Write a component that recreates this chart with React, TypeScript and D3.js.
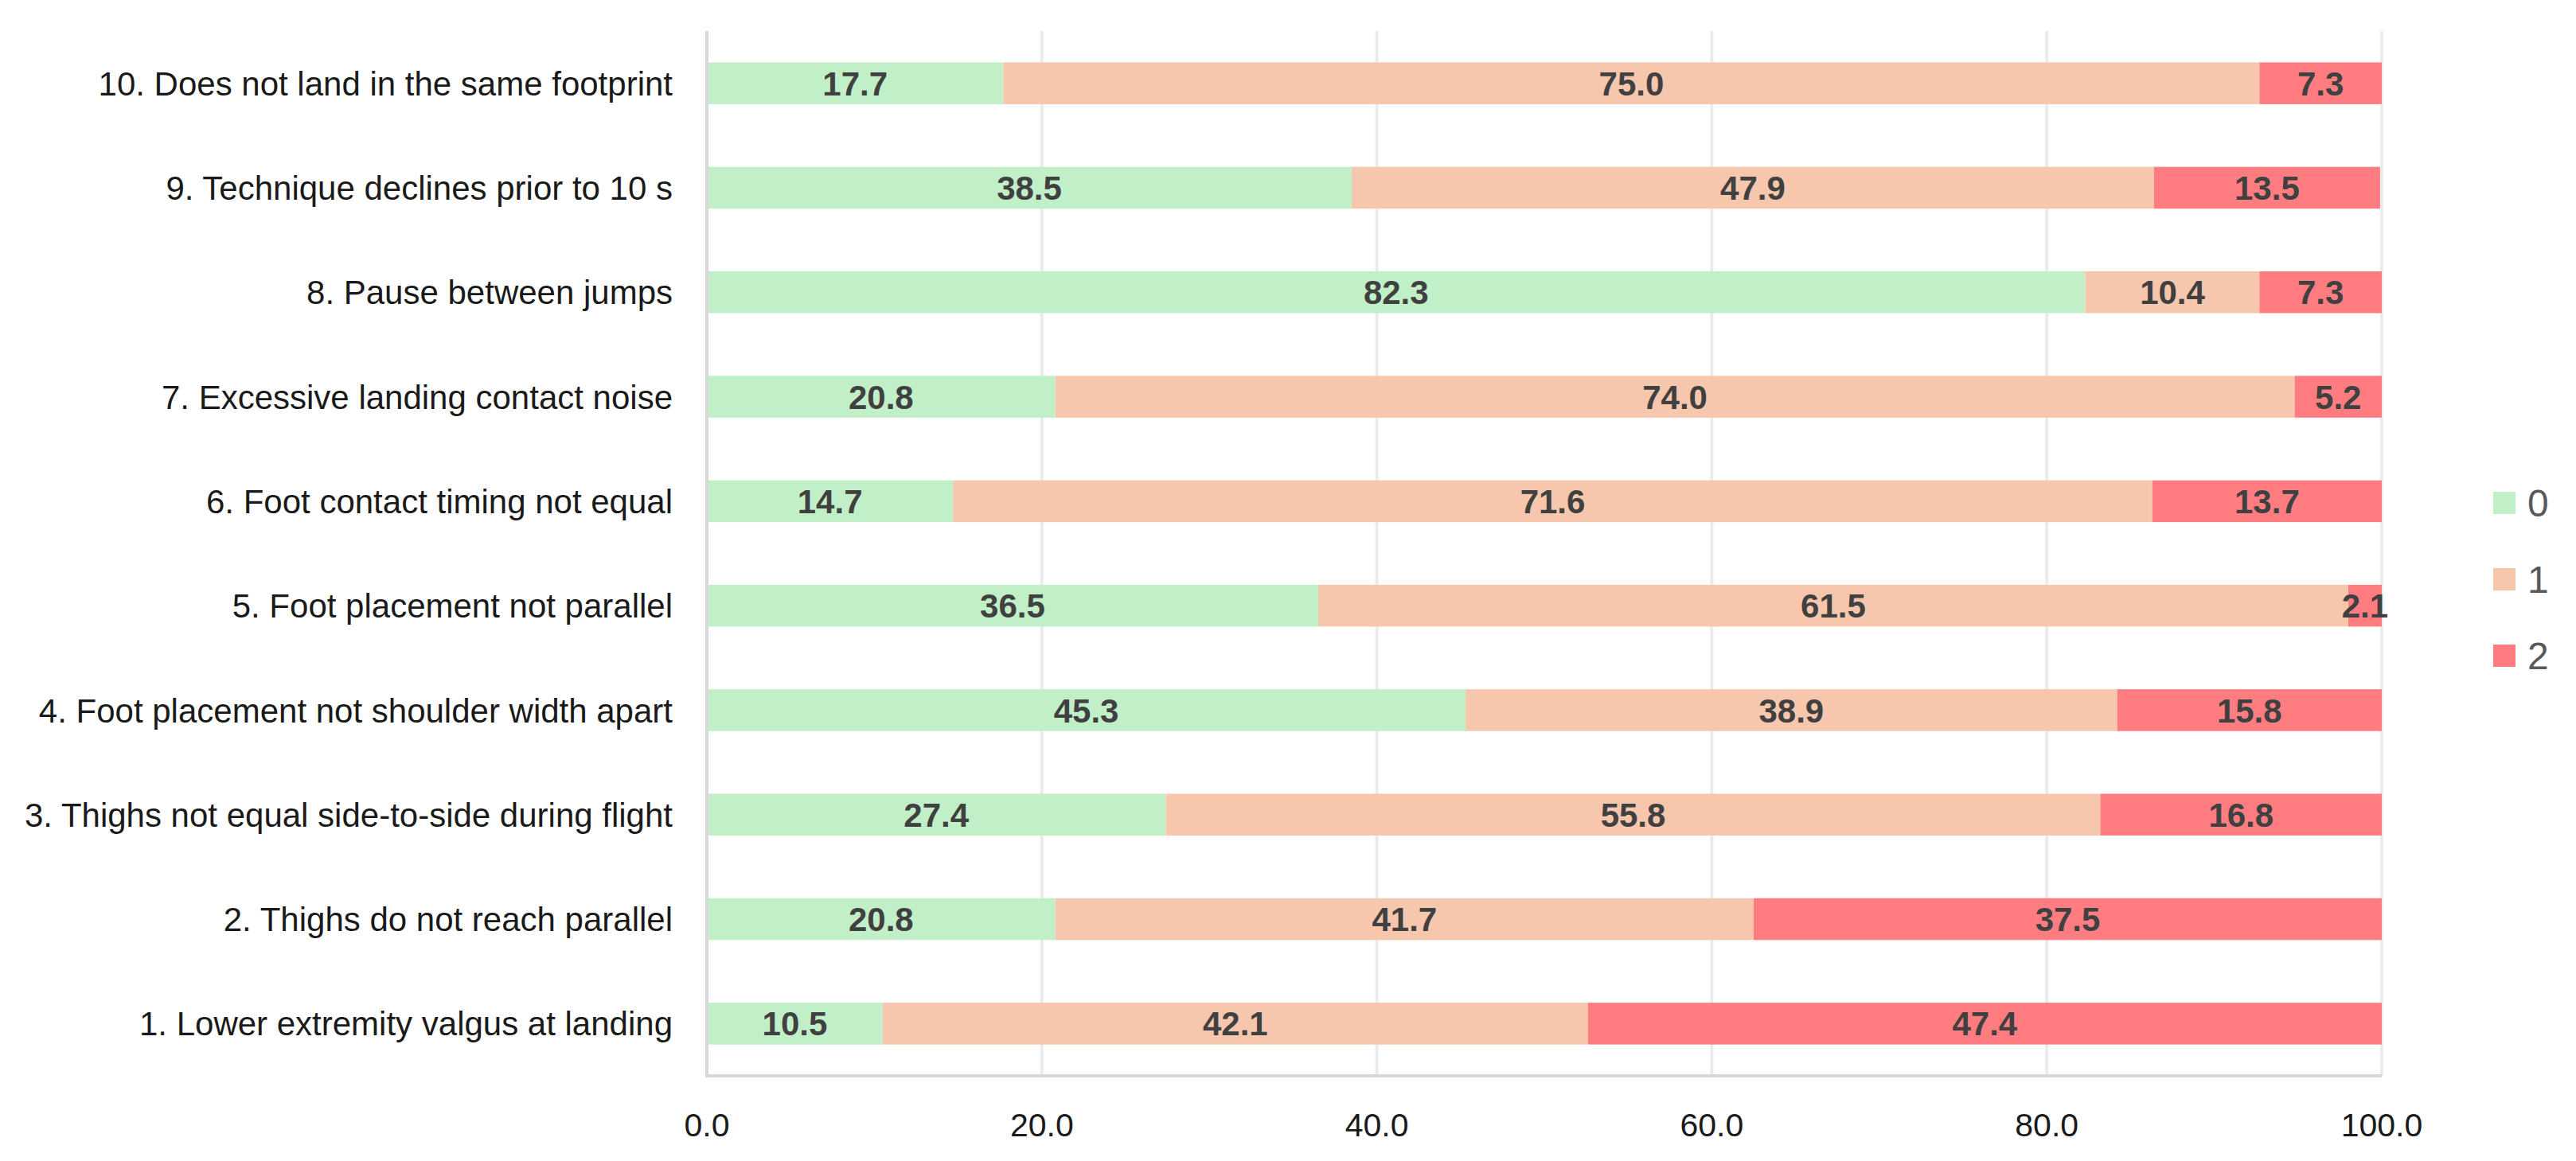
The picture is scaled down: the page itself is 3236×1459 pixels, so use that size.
import React, { useEffect, useRef } from 'react';
import * as d3 from 'd3';

// Item labels, top row first (as drawn)
const categories = [
  '10. Does not land in the same footprint',
  '9. Technique declines prior to 10 s',
  '8. Pause between jumps',
  '7. Excessive landing contact noise',
  '6. Foot contact timing not equal',
  '5. Foot placement not parallel',
  '4. Foot placement not shoulder width apart',
  '3. Thighs not equal side-to-side during flight',
  '2. Thighs do not reach parallel',
  '1. Lower extremity valgus at landing',
];

const score0 = [17.7, 38.5, 82.3, 20.8, 14.7, 36.5, 45.3, 27.4, 20.8, 10.5];
const score1 = [75.0, 47.9, 10.4, 74.0, 71.6, 61.5, 38.9, 55.8, 41.7, 42.1];
const score2 = [7.3, 13.5, 7.3, 5.2, 13.7, 2.1, 15.8, 16.8, 37.5, 47.4];

const seriesNames = ['0', '1', '2'];
const seriesColors = ['#C1F0C8', '#F6C6AD', '#FF7C80'];
const xTicks = [0, 20, 40, 60, 80, 100];

const W = 3236;
const H = 1459;

export default function App() {
  const svgRef = useRef<SVGSVGElement>(null);

  useEffect(() => {
    if (!svgRef.current) return;
    const svg = d3.select(svgRef.current);
    svg.selectAll('*').remove();

    const margin = { top: 39, right: 244, bottom: 107, left: 888 };
    const innerW = W - margin.left - margin.right;
    const innerH = H - margin.top - margin.bottom;

    const rows = categories.map((c, i) => ({
      name: c,
      '0': score0[i],
      '1': score1[i],
      '2': score2[i],
    }));

    const stacked = d3.stack<any>().keys(seriesNames)(rows);

    const x = d3.scaleLinear().domain([0, 100]).range([0, innerW]).clamp(true);
    const y = d3.scaleBand().domain(categories).range([0, innerH]).paddingInner(0.6).paddingOuter(0.3);

    const g = svg.append('g').attr('transform', `translate(${margin.left},${margin.top})`);

    // vertical gridlines
    g.append('g')
      .selectAll('line')
      .data(xTicks.slice(1))
      .enter().append('line')
      .attr('x1', d => x(d))
      .attr('x2', d => x(d))
      .attr('y1', 0)
      .attr('y2', innerH)
      .attr('stroke', '#EBEBEB')
      .attr('stroke-width', 4);

    // stacked bars
    const layers = g.selectAll('.layer')
      .data(stacked)
      .enter().append('g')
      .attr('fill', (_d, i) => seriesColors[i]);

    layers.selectAll('rect')
      .data(d => d)
      .enter().append('rect')
      .attr('x', d => x(d[0]))
      .attr('y', d => y(d.data.name) || 0)
      .attr('width', d => x(d[1]) - x(d[0]))
      .attr('height', y.bandwidth());

    // axis lines
    g.append('line')
      .attr('x1', 0).attr('x2', 0)
      .attr('y1', 0).attr('y2', innerH)
      .attr('stroke', '#D9D9D9').attr('stroke-width', 4);
    g.append('line')
      .attr('x1', -2).attr('x2', innerW)
      .attr('y1', innerH).attr('y2', innerH)
      .attr('stroke', '#D9D9D9').attr('stroke-width', 4);

    // value labels
    stacked.forEach(layer => {
      g.append('g')
        .selectAll('text')
        .data(layer)
        .enter().append('text')
        .attr('x', d => (x(d[0]) + x(d[1])) / 2)
        .attr('y', d => (y(d.data.name) || 0) + y.bandwidth() / 2)
        .attr('dy', '0.36em')
        .attr('text-anchor', 'middle')
        .attr('fill', '#404040')
        .style('font-family', 'Liberation Sans, Arial, sans-serif')
        .style('font-weight', 'bold')
        .style('font-size', '42px')
        .text(d => (d[1] - d[0]).toFixed(1));
    });

    // category labels
    g.append('g')
      .selectAll('text')
      .data(categories)
      .enter().append('text')
      .attr('x', -43)
      .attr('y', d => (y(d) || 0) + y.bandwidth() / 2)
      .attr('dy', '0.36em')
      .attr('text-anchor', 'end')
      .attr('fill', '#1a1a1a')
      .style('font-family', 'Liberation Sans, Arial, sans-serif')
      .style('font-size', '42px')
      .text(d => d);

    // x tick labels
    g.append('g')
      .selectAll('text')
      .data(xTicks)
      .enter().append('text')
      .attr('x', d => x(d))
      .attr('y', innerH + 61)
      .attr('dy', '0.36em')
      .attr('text-anchor', 'middle')
      .attr('fill', '#1a1a1a')
      .style('font-family', 'Liberation Sans, Arial, sans-serif')
      .style('font-size', '41px')
      .text(d => d.toFixed(1));

    // legend
    const legend = svg.append('g').attr('transform', 'translate(3132,632)');
    const items = legend.selectAll('g')
      .data(seriesNames)
      .enter().append('g')
      .attr('transform', (_d, i) => `translate(0,${i * 96})`);
    items.append('rect')
      .attr('x', 0).attr('y', -14)
      .attr('width', 28).attr('height', 28)
      .attr('fill', (_d, i) => seriesColors[i]);
    items.append('text')
      .attr('x', 43)
      .attr('y', 0)
      .attr('dy', '0.36em')
      .attr('fill', '#595959')
      .style('font-family', 'Liberation Sans, Arial, sans-serif')
      .style('font-size', '48px')
      .text(d => d);
  }, []);

  return (
    <svg
      ref={svgRef}
      width={W}
      height={H}
      style={{ position: 'absolute', left: 0, top: 0, background: '#fff' }}
    />
  );
}
